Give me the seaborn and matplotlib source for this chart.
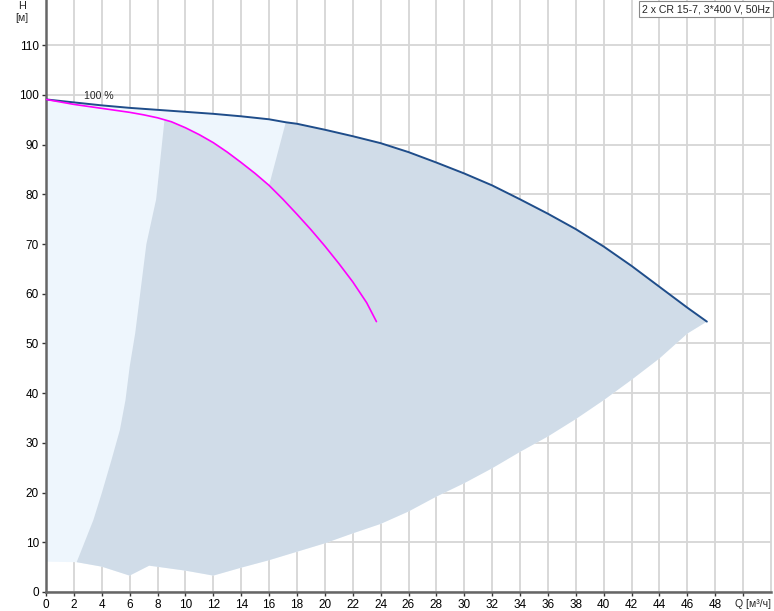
import numpy as np
import pandas as pd
import matplotlib
matplotlib.use("Agg")
import matplotlib.pyplot as plt
import seaborn as sns

# pump curve at 100 % (Q in m3/h, H in m)
q_top = [0, 2, 4, 6, 8, 10, 12, 14, 16, 17.2, 18, 20, 22, 24, 26, 28, 30,
         32, 34, 36, 38, 40, 42, 44, 46, 47.4]
h_top = [99.1, 98.5, 97.9, 97.4, 97.0, 96.6, 96.2, 95.7, 95.1, 94.5, 94.2,
         93.0, 91.7, 90.3, 88.5, 86.4, 84.2, 81.8, 79.0, 76.1, 73.0, 69.5,
         65.6, 61.4, 57.2, 54.4]

# magenta curve (one pump)
q_one = [0, 2, 4, 6, 7, 8, 8.5, 9, 10, 11, 12, 13, 14, 15, 16, 17, 18, 19,
         20, 21, 22, 23, 23.7]
h_one = [99.1, 98.1, 97.3, 96.5, 96.0, 95.4, 95.0, 94.6, 93.4, 92.0, 90.4,
         88.5, 86.4, 84.2, 81.8, 79.0, 76.0, 72.9, 69.6, 66.1, 62.4, 58.2,
         54.4]

# lower limit of operating range
q_low = [0, 2.2, 4, 6, 7.4, 10, 12, 14, 16, 18, 20, 22, 24, 26, 28, 30, 32,
         34, 36, 38, 40, 42, 44, 46, 47.4]
h_low = [6.1, 6.0, 5.1, 3.3, 5.3, 4.3, 3.3, 4.9, 6.4, 8.1, 9.8, 11.8, 13.7,
         16.2, 19.2, 21.9, 24.9, 28.2, 31.3, 34.8, 38.6, 42.7, 47.0, 52.0, 54.4]

# left limit of the darker range
q_left = [2.2, 3.4, 4.0, 4.7, 5.3, 5.7, 6.0, 6.4, 6.7, 7.2, 7.9, 8.5]
h_left = [6.0, 14.5, 19.9, 26.6, 32.6, 38.6, 45.3, 52.1, 58.8, 70.0, 79.0, 95.0]

x_ticks = list(range(0, 50, 2))
y_ticks = list(range(0, 120, 10))

top = pd.DataFrame({"Q": q_top, "H": h_top})
one = pd.DataFrame({"Q": q_one, "H": h_one})

sns.set_style("whitegrid")
plt.rcParams["font.family"] = ["Liberation Sans", "DejaVu Sans"]

fig = plt.figure(figsize=(7.74, 6.11), dpi=100)
ax = fig.add_axes([46 / 774, 19 / 611, 725 / 774, 592 / 611])

# light region: whole range under the 100 % curve
qt, ht = np.array(q_top), np.array(h_top)
ql, hl = np.array(q_low), np.array(h_low)
light_x = np.concatenate([qt, ql[::-1]])
light_y = np.concatenate([ht, hl[::-1]])
ax.fill(light_x, light_y, color="#eef6fd", lw=0, zorder=1)

# darker region
qo, ho = np.array(q_one), np.array(h_one)
m_top = qt >= 17.2
m_one = (qo >= 8.5) & (qo <= 16)
dark_x = np.concatenate([ql[1:], qt[m_top][::-1], qo[m_one][::-1], np.array(q_left)[::-1]])
dark_y = np.concatenate([hl[1:], ht[m_top][::-1], ho[m_one][::-1], np.array(h_left)[::-1]])
ax.fill(dark_x, dark_y, color="#d0dce8", lw=0, zorder=2)

sns.lineplot(data=top, x="Q", y="H", sort=False, estimator=None,
             color="#1f4d8a", lw=1.4, ax=ax, zorder=4)
sns.lineplot(data=one, x="Q", y="H", sort=False, estimator=None,
             color="#ff00ff", lw=1.2, ax=ax, zorder=4)

ax.text(3.8, 99.7, "100 %", fontsize=7.6, ha="center", va="center", zorder=5)

ax.set_xlim(0, 52)
ax.set_ylim(0, 119.1)
ax.set_xticks(x_ticks + [50])
ax.set_xticklabels([str(v) for v in x_ticks] + [""])
ax.set_yticks(y_ticks)
ax.set_yticklabels([str(v) for v in y_ticks])
ax.set_xlabel("")
ax.set_ylabel("")
ax.grid(True, color="#d6d6d6", lw=1.3)
ax.set_axisbelow(True)
ax.tick_params(axis="both", labelsize=8.5, colors="#333333", length=3,
               width=1, pad=2, direction="out")
ax.tick_params(axis="x", labelcolor="black")
ax.tick_params(axis="y", labelcolor="black")
ax.xaxis.set_ticks_position("bottom")
ax.yaxis.set_ticks_position("left")

ax.spines["top"].set_visible(False)
ax.spines["right"].set_color("#d6d6d6")
ax.spines["right"].set_linewidth(1.3)
ax.spines["left"].set_color("#666666")
ax.spines["left"].set_linewidth(1.8)
ax.spines["bottom"].set_color("#666666")
ax.spines["bottom"].set_linewidth(1.8)

ax.text(1.0, -0.011, "Q [м³/ч]", transform=ax.transAxes, ha="right",
        va="top", fontsize=7.6)
fig.text(22 / 774, 1 - 6 / 611, "H", ha="center", va="center", fontsize=7.8)
fig.text(22 / 774, 1 - 18 / 611, "[м]", ha="center", va="center", fontsize=7.6)
fig.text(1 - 4 / 774, 1 - 9 / 611, "2 x CR 15-7, 3*400 V, 50Hz", ha="right",
         va="center", fontsize=7.6,
         bbox=dict(facecolor="white", edgecolor="#888888", lw=0.8,
                   boxstyle="square,pad=0.3"))

fig.savefig("out.png", dpi=100)
